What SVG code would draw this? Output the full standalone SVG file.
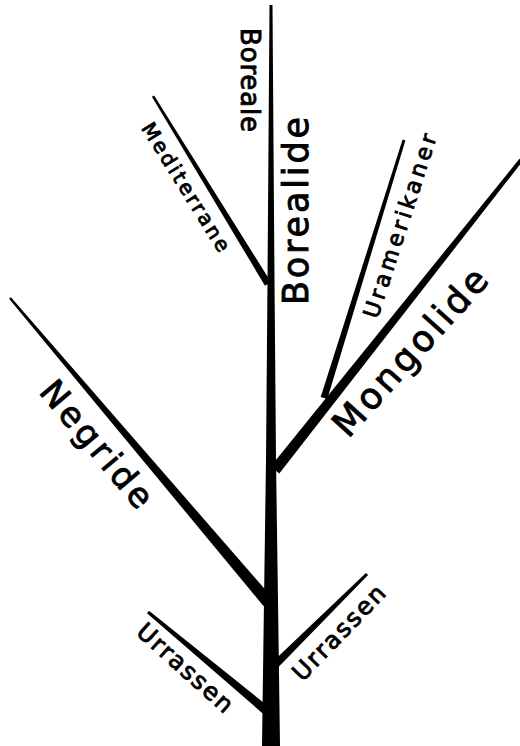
<svg xmlns="http://www.w3.org/2000/svg" width="520" height="746" viewBox="0 0 520 746">
<style>
.br{fill:#000;stroke:none}
.lb{font-family:"DejaVu Sans","Liberation Sans",sans-serif;font-weight:normal;fill:#000;stroke:#000;stroke-width:0.9;text-anchor:middle;dominant-baseline:central}
</style>
<rect width="520" height="746" fill="#fff"/>
<g id="connectors">
<polygon class="br" points="269.5,5 272.5,5 274.5,280 276,460 278,600 280,746 262,746 264,600 266,460 267.5,280"/>
<polygon class="br" points="154.1,95.4 271,282.2 265,285.8 151.9,96.7"/>
<polygon class="br" points="402.6,139.6 405.4,140.4 327.3,399 320.7,397"/>
<polygon class="br" points="519.4,158.8 522.6,161.2 279.3,473.4 270.7,466.6"/>
<polygon class="br" points="10.95,297.2 272.6,598.1 263.4,605.9 9.05,298.8"/>
<polygon class="br" points="149,610.8 270.9,708.5 265.1,715.5 147,613.2"/>
<polygon class="br" points="365.9,572.9 368.1,575.1 276.8,668.8 271.2,663.2"/>
</g>
<g id="boreale"><text class="lb" font-size="26" transform="translate(250,80) rotate(90)" textLength="104" lengthAdjust="spacing">Boreale</text></g>
<g id="borealide"><text class="lb" font-size="35" transform="translate(296,211) rotate(-90)" textLength="188" lengthAdjust="spacing">Borealide</text></g>
<g id="mediterrane"><text class="lb" font-size="20" transform="translate(186,187) rotate(58)" textLength="148" lengthAdjust="spacing">Mediterrane</text></g>
<g id="uramerikaner"><text class="lb" font-size="22" transform="translate(400,226) rotate(-72)" textLength="192" lengthAdjust="spacing">Uramerikaner</text></g>
<g id="mongolide"><text class="lb" font-size="36" transform="translate(410,352) rotate(-48)" textLength="212" lengthAdjust="spacing">Mongolide</text></g>
<g id="negride"><text class="lb" font-size="34" transform="translate(97,444) rotate(50)" textLength="155" lengthAdjust="spacing">Negride</text></g>
<g id="urrassen-left"><text class="lb" font-size="24" transform="translate(185,668) rotate(42)" textLength="120" lengthAdjust="spacing">Urrassen</text></g>
<g id="urrassen-right"><text class="lb" font-size="24" transform="translate(339,633) rotate(-46)" textLength="122" lengthAdjust="spacing">Urrassen</text></g>
</svg>
